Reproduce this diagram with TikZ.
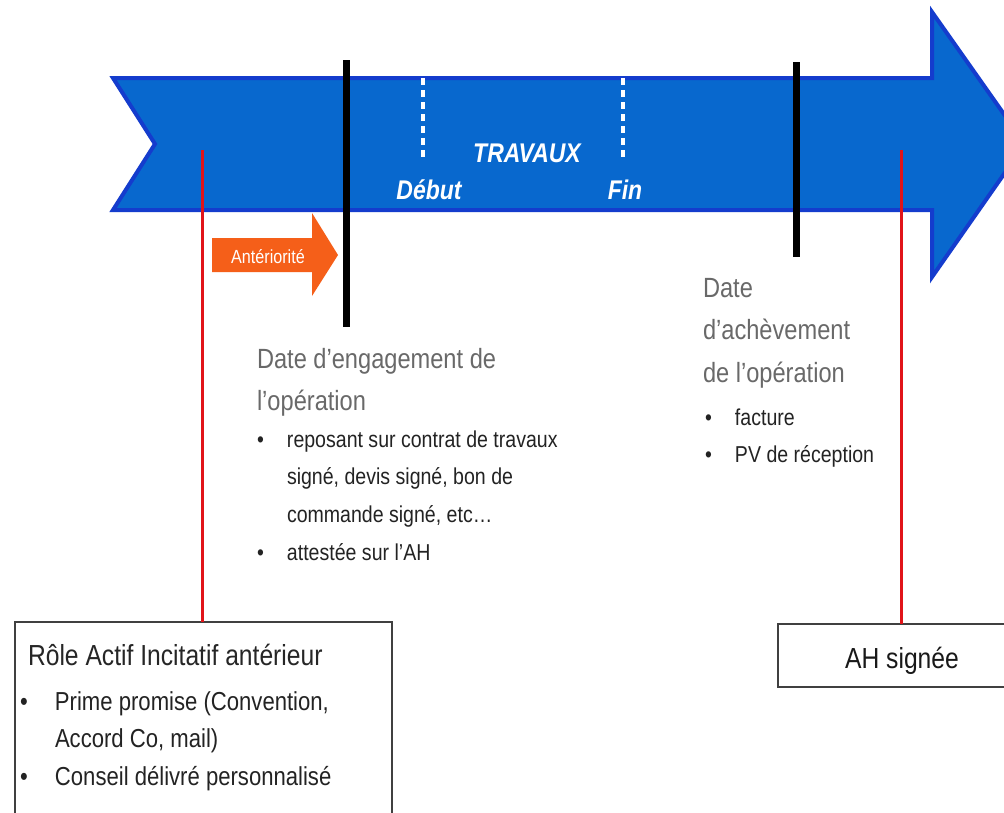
\documentclass[tikz,border=0pt]{standalone}
\usepackage{fontspec}
\setmainfont{Liberation Sans}[FakeStretch=0.85]
\definecolor{arrowfill}{RGB}{8,104,206}
\definecolor{arrowedge}{RGB}{20,60,205}
\definecolor{headgray}{RGB}{105,105,105}
\definecolor{textgray}{RGB}{35,35,35}
\definecolor{orangeA}{RGB}{245,95,25}
\definecolor{redline}{RGB}{225,20,25}
\tikzset{
  every node/.style={inner sep=0pt, outer sep=0pt},
  blackbar/.style={line width=7pt, black},
  whitedash/.style={line width=4pt, white, dash pattern=on 7pt off 5pt},
  redconn/.style={line width=3pt, redline},
  boxstyle/.style={draw=black!75, line width=1.6pt, fill=white},
  wlabel/.style={white, font=\fontsize{27}{30}\selectfont\bfseries\itshape, anchor=base},
  heading/.style={anchor=base west, text=headgray, font=\fontsize{27.8}{42.5}\selectfont},
  bullets/.style={anchor=base west, text=textgray, font=\fontsize{23}{37.7}\selectfont},
}
\newcommand{\bul}{\makebox[30pt][l]{•}}
\begin{document}
\begin{tikzpicture}[x=1pt, y=-1pt]
\useasboundingbox (0,0) rectangle (1004,812);
\clip (0,0) rectangle (1004,812);
\fill[white] (0,0) rectangle (1004,812);
% big blue arrow
\draw[fill=arrowfill, draw=arrowedge, line width=4pt, line join=miter]
  (113,78) -- (932,78) -- (932,12) -- (1025,144) -- (932,277) -- (932,210) -- (113,210) -- (155,144) -- cycle;
% dashed markers
\coordinate (d1t) at (423,78); \coordinate (d1b) at (423,158);
\coordinate (d2t) at (623,78); \coordinate (d2b) at (623,158);
\draw[whitedash] (d1t) -- (d1b);
\draw[whitedash] (d2t) -- (d2b);
\node[wlabel] (travaux) at (527,162) {TRAVAUX};
\node[wlabel] (debut) at (429,199) {Début};
\node[wlabel] (fin) at (625,199) {Fin};
% black bars
\coordinate (b1t) at (346,60); \coordinate (b1b) at (346,327);
\coordinate (b2t) at (796,62); \coordinate (b2b) at (796,257);
\draw[blackbar] (b1t) -- (b1b);
\draw[blackbar] (b2t) -- (b2b);
% orange arrow
\fill[orangeA] (212,238) -- (312,238) -- (312,213) -- (338,255) -- (312,296) -- (312,272) -- (212,272) -- cycle;
\node[white, font=\fontsize{19}{21}\selectfont, anchor=base] (anter) at (268,263) {Antériorité};
% boxes
\node[boxstyle, anchor=north west, minimum width=377pt, minimum height=220pt] (rolebox) at (15,622) {};
\node[boxstyle, anchor=north west, minimum width=240pt, minimum height=63pt] (ahbox) at (778,624) {};
% red connectors
\coordinate (r1) at (202,150);
\coordinate (r2) at (901,150);
\draw[redconn] (r1) -- (r1 |- rolebox.north);
\draw[redconn] (r2) -- (r2 |- ahbox.north);
% texts
\node[heading] (engage) at (257,368) {\begin{tabular}[t]{@{}l@{}}Date d’engagement de\\l’opération\end{tabular}};
\node[bullets] (engagelist) at (257,447) {\begin{tabular}[t]{@{}l@{}l@{}}\bul&reposant sur contrat de travaux\\&signé, devis signé, bon de\\&commande signé, etc…\\\bul&attestée sur l’AH\end{tabular}};
\node[heading] (achev) at (703,297) {\begin{tabular}[t]{@{}l@{}}Date\\d’achèvement\\de l’opération\end{tabular}};
\node[bullets] (achevlist) at (705,425) {\begin{tabular}[t]{@{}l@{}l@{}}\bul&facture\\\bul&PV de réception\end{tabular}};
\node[anchor=base west, text=black!85, font=\fontsize{29}{32}\selectfont] (roletitle) at (28,665) {Rôle Actif Incitatif antérieur};
\node[anchor=base west, text=textgray, font=\fontsize{26}{37.5}\selectfont] (rolelist) at (20,710) {\begin{tabular}[t]{@{}l@{}l@{}}\makebox[35pt][l]{•}&Prime promise (Convention,\\&Accord Co, mail)\\\makebox[35pt][l]{•}&Conseil délivré personnalisé\end{tabular}};
\node[anchor=base, text=black!90, font=\fontsize{29}{32}\selectfont] (ahtext) at (902,668) {AH signée};
\end{tikzpicture}
\end{document}
